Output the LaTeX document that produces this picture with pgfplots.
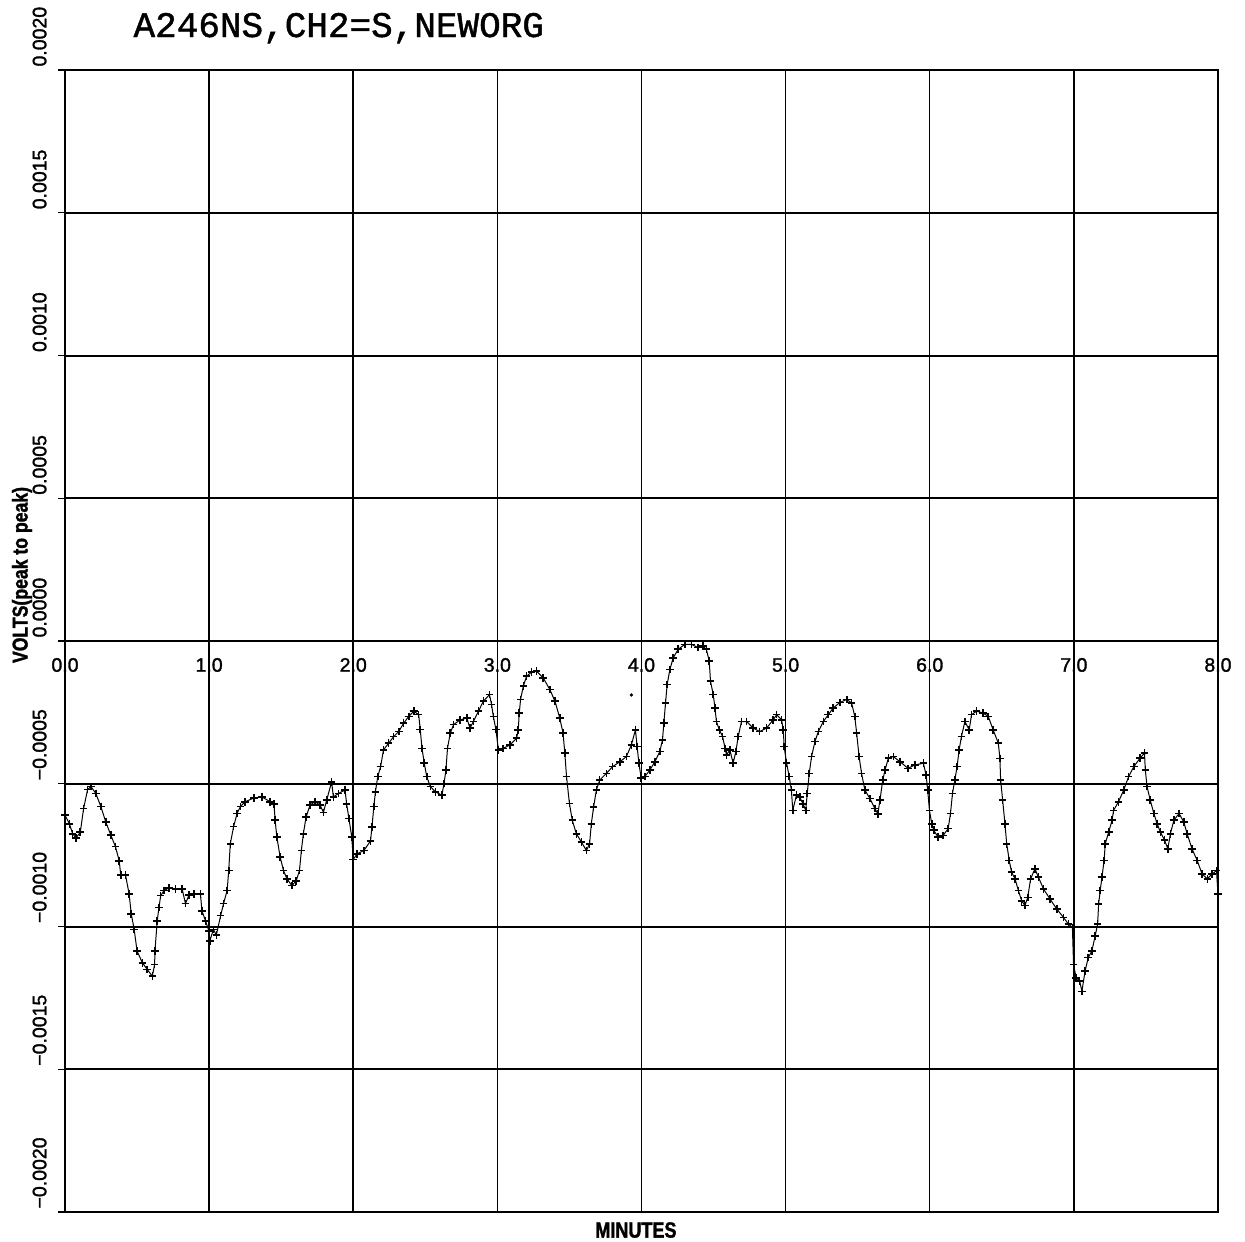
\documentclass[border=0pt]{standalone}
\usepackage{fontspec}
\setmainfont{Liberation Sans}
\newfontfamily\titlefont[FakeBold=1.2]{Liberation Mono}
\newfontfamily\labfont[FakeStretch=0.82,FakeBold=1.5]{Liberation Sans Bold}
\newfontfamily\tickfamily[FakeBold=1.5]{Liberation Sans}
\newcommand\tickfont{\tickfamily\fontsize{19.5}{20}\selectfont}
\usepackage{pgfplots}
\pgfplotsset{compat=1.18}
\begin{document}
\begin{tikzpicture}[x=1pt,y=1pt]
\useasboundingbox (0,0) rectangle (1245,1242);
\begin{axis}[
  at={(65pt,30pt)}, anchor=south west, scale only axis,
  width=1153pt, height=1142pt,
  xmin=0, xmax=8, ymin=-0.002, ymax=0.002,
  scaled y ticks=false, scaled x ticks=false,
  xtick={0,1,2,3,4,5,6,7,8},
  xticklabels={0.0,1.0,2.0,3.0,4.0,5.0,6.0,7.0,8.0},
  ytick={-0.002,-0.0015,-0.001,-0.0005,0,0.0005,0.001,0.0015,0.002},
  yticklabels={−0.0020,−0.0015,−0.0010,−0.0005,0.0000,0.0005,0.0010,0.0015,0.0020},
  ytick pos=left,
  grid=major,
  major x grid style={black, line width=1.5pt},
  major y grid style={black, line width=2pt},
  axis line style={black, line width=2pt},
  xtick style={draw=none},
  ytick style={black, line width=1.3pt},
  tick align=outside, major tick length=7pt,
  xticklabel style={font=\tickfont, anchor=center, yshift=554pt},
  yticklabel style={font=\tickfont, xshift=-8pt, rotate=90, anchor=south west},
  title={\titlefont\fontsize{36}{36}\selectfont A246NS,CH2=S,NEWORG},
  every axis title/.style={at={(rel axis cs:0.0564,1.0289)}, anchor=base west},
  xlabel={\labfont\fontsize{22}{22}\selectfont MINUTES},
  every axis x label/.style={at={(rel axis cs:0.4952,-0.0158)}, anchor=center},
  ylabel={\labfont\fontsize{21.5}{21.5}\selectfont VOLTS(peak to peak)},
  every axis y label/.style={at={(rel axis cs:-0.0373,0.5578)}, rotate=90, anchor=center},
]
\addplot[black, line width=1pt, mark=+, mark size=3.8pt, mark options={line width=1.6pt}] table {
t v
0.000 -0.000610
0.030 -0.000640
0.053 -0.000675
0.076 -0.000690
0.106 -0.000670
0.129 -0.000587
0.157 -0.000520
0.180 -0.000510
0.214 -0.000534
0.249 -0.000580
0.283 -0.000634
0.318 -0.000680
0.350 -0.000720
0.376 -0.000770
0.387 -0.000820
0.420 -0.000820
0.445 -0.000886
0.460 -0.000957
0.480 -0.001010
0.500 -0.001086
0.537 -0.001127
0.570 -0.001150
0.606 -0.001174
0.622 -0.001133
0.624 -0.001086
0.640 -0.000980
0.652 -0.000933
0.664 -0.000892
0.687 -0.000874
0.720 -0.000865
0.767 -0.000869
0.813 -0.000869
0.836 -0.000920
0.860 -0.000890
0.894 -0.000886
0.940 -0.000886
0.950 -0.000945
0.975 -0.000980
0.998 -0.001015
1.005 -0.001050
1.030 -0.001010
1.050 -0.001030
1.080 -0.000962
1.100 -0.000920
1.125 -0.000874
1.136 -0.000804
1.147 -0.000710
1.170 -0.000650
1.194 -0.000604
1.217 -0.000580
1.250 -0.000563
1.310 -0.000550
1.366 -0.000546
1.424 -0.000563
1.450 -0.000570
1.458 -0.000628
1.470 -0.000687
1.493 -0.000757
1.516 -0.000804
1.540 -0.000833
1.574 -0.000857
1.604 -0.000840
1.627 -0.000804
1.640 -0.000734
1.654 -0.000675
1.673 -0.000616
1.700 -0.000575
1.735 -0.000563
1.770 -0.000575
1.793 -0.000600
1.816 -0.000557
1.850 -0.000493
1.862 -0.000546
1.897 -0.000534
1.943 -0.000522
1.954 -0.000570
1.970 -0.000622
1.990 -0.000687
2.000 -0.000765
2.028 -0.000745
2.074 -0.000734
2.120 -0.000700
2.130 -0.000651
2.143 -0.000580
2.154 -0.000528
2.170 -0.000475
2.190 -0.000440
2.210 -0.000381
2.246 -0.000358
2.280 -0.000335
2.316 -0.000317
2.350 -0.000288
2.385 -0.000264
2.420 -0.000246
2.454 -0.000258
2.465 -0.000310
2.477 -0.000376
2.493 -0.000428
2.510 -0.000475
2.535 -0.000510
2.570 -0.000528
2.615 -0.000540
2.630 -0.000499
2.643 -0.000452
2.654 -0.000376
2.673 -0.000323
2.696 -0.000293
2.742 -0.000276
2.788 -0.000270
2.810 -0.000305
2.834 -0.000282
2.869 -0.000246
2.903 -0.000211
2.945 -0.000188
2.960 -0.000223
2.972 -0.000264
2.990 -0.000310
3.007 -0.000381
3.040 -0.000376
3.088 -0.000364
3.134 -0.000340
3.145 -0.000311
3.152 -0.000252
3.161 -0.000205
3.180 -0.000158
3.203 -0.000123
3.237 -0.000109
3.272 -0.000106
3.318 -0.000129
3.364 -0.000170
3.400 -0.000211
3.433 -0.000270
3.456 -0.000323
3.468 -0.000393
3.480 -0.000475
3.500 -0.000569
3.520 -0.000628
3.548 -0.000675
3.583 -0.000704
3.618 -0.000734
3.640 -0.000710
3.652 -0.000640
3.668 -0.000581
3.687 -0.000522
3.710 -0.000487
3.756 -0.000464
3.800 -0.000440
3.850 -0.000423
3.895 -0.000405
3.930 -0.000364
3.958 -0.000311
3.970 -0.000370
3.982 -0.000428
3.998 -0.000480
4.023 -0.000475
4.058 -0.000452
4.093 -0.000423
4.127 -0.000387
4.146 -0.000346
4.155 -0.000288
4.167 -0.000217
4.178 -0.000153
4.197 -0.000100
4.220 -0.000059
4.255 -0.000029
4.300 -0.000012
4.347 -0.000012
4.393 -0.000023
4.428 -0.000018
4.450 -0.000029
4.470 -0.000070
4.479 -0.000141
4.498 -0.000188
4.510 -0.000235
4.520 -0.000282
4.540 -0.000311
4.563 -0.000335
4.580 -0.000376
4.590 -0.000399
4.613 -0.000381
4.636 -0.000428
4.655 -0.000387
4.671 -0.000335
4.694 -0.000282
4.730 -0.000282
4.775 -0.000305
4.820 -0.000317
4.868 -0.000305
4.914 -0.000276
4.938 -0.000258
4.972 -0.000276
4.984 -0.000311
4.990 -0.000370
5.007 -0.000428
5.025 -0.000475
5.040 -0.000522
5.050 -0.000593
5.075 -0.000540
5.098 -0.000546
5.120 -0.000570
5.140 -0.000593
5.150 -0.000534
5.164 -0.000464
5.180 -0.000405
5.204 -0.000352
5.227 -0.000317
5.262 -0.000282
5.296 -0.000258
5.330 -0.000235
5.377 -0.000215
5.424 -0.000205
5.458 -0.000217
5.480 -0.000264
5.493 -0.000323
5.510 -0.000405
5.527 -0.000464
5.550 -0.000522
5.585 -0.000552
5.620 -0.000587
5.640 -0.000605
5.655 -0.000557
5.674 -0.000487
5.690 -0.000452
5.713 -0.000410
5.748 -0.000405
5.794 -0.000423
5.850 -0.000446
5.898 -0.000434
5.956 -0.000428
5.975 -0.000470
5.986 -0.000522
5.998 -0.000593
6.014 -0.000640
6.028 -0.000663
6.058 -0.000687
6.093 -0.000681
6.128 -0.000657
6.144 -0.000604
6.158 -0.000534
6.174 -0.000487
6.190 -0.000440
6.204 -0.000381
6.220 -0.000335
6.244 -0.000282
6.274 -0.000311
6.290 -0.000258
6.325 -0.000246
6.370 -0.000252
6.406 -0.000264
6.440 -0.000311
6.476 -0.000358
6.487 -0.000411
6.492 -0.000487
6.506 -0.000557
6.522 -0.000640
6.534 -0.000710
6.552 -0.000769
6.568 -0.000810
6.592 -0.000833
6.615 -0.000874
6.638 -0.000910
6.661 -0.000927
6.680 -0.000898
6.700 -0.000833
6.730 -0.000798
6.754 -0.000827
6.790 -0.000869
6.835 -0.000904
6.882 -0.000939
6.928 -0.000968
6.963 -0.000992
6.990 -0.001003
6.998 -0.001133
7.016 -0.001180
7.040 -0.001190
7.056 -0.001227
7.078 -0.001156
7.100 -0.001109
7.125 -0.001086
7.148 -0.001033
7.165 -0.000992
7.172 -0.000921
7.183 -0.000874
7.195 -0.000827
7.210 -0.000769
7.218 -0.000710
7.242 -0.000669
7.265 -0.000628
7.276 -0.000593
7.310 -0.000563
7.346 -0.000522
7.380 -0.000475
7.416 -0.000440
7.460 -0.000410
7.490 -0.000393
7.496 -0.000452
7.508 -0.000510
7.530 -0.000557
7.555 -0.000604
7.578 -0.000640
7.600 -0.000669
7.630 -0.000698
7.652 -0.000728
7.670 -0.000675
7.694 -0.000628
7.730 -0.000604
7.763 -0.000634
7.786 -0.000675
7.820 -0.000728
7.856 -0.000769
7.890 -0.000816
7.926 -0.000833
7.960 -0.000816
7.990 -0.000804
8.000 -0.000886
};
\addplot[only marks, black, mark=*, mark size=1.5pt] coordinates {(3.93,-0.000189)};
\end{axis}
\end{tikzpicture}
\end{document}
